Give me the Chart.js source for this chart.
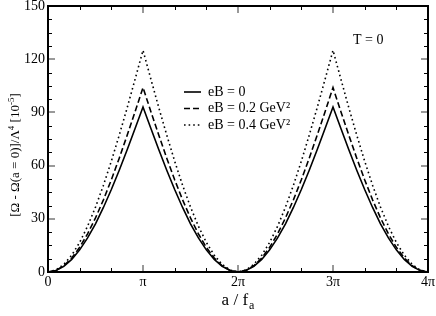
<!DOCTYPE html>
<html>
<head>
<meta charset="utf-8">
<script src="https://cdn.jsdelivr.net/npm/chart.js@4.4.0/dist/chart.umd.min.js"></script>
<style>
  html, body { margin: 0; padding: 0; background: #fff; }
  #wrap { width: 436px; height: 316px; }
</style>
</head>
<body>
<div id="wrap"><canvas id="potencial" width="436" height="316"></canvas></div>
<script>
// a / f_a em unidades de pi, passo pi/12
const aGrid = Array.from({ length: 49 }, (_, k) => k / 12);

// valores, [10^-5]
const eB0 = [0, 0.8, 3.2, 7.1, 12.5, 19.2, 27.2, 36.4, 46.5, 57.4, 68.9, 80.9, 93,
  80.9, 68.9, 57.4, 46.5, 36.4, 27.2, 19.2, 12.5, 7.1, 3.2, 0.8, 0,
  0.8, 3.2, 7.1, 12.5, 19.2, 27.2, 36.4, 46.5, 57.4, 68.9, 80.9, 93,
  80.9, 68.9, 57.4, 46.5, 36.4, 27.2, 19.2, 12.5, 7.1, 3.2, 0.8, 0];
const eB02 = [0, 0.9, 3.5, 7.9, 13.9, 21.5, 30.5, 40.7, 52, 64.2, 77.1, 90.4, 104,
  90.4, 77.1, 64.2, 52, 40.7, 30.5, 21.5, 13.9, 7.9, 3.5, 0.9, 0,
  0.9, 3.5, 7.9, 13.9, 21.5, 30.5, 40.7, 52, 64.2, 77.1, 90.4, 104,
  90.4, 77.1, 64.2, 52, 40.7, 30.5, 21.5, 13.9, 7.9, 3.5, 0.9, 0];
const eB04 = [0, 1.1, 4.3, 9.5, 16.7, 25.8, 36.6, 48.9, 62.5, 77.2, 92.6, 108.7, 125,
  108.7, 92.6, 77.2, 62.5, 48.9, 36.6, 25.8, 16.7, 9.5, 4.3, 1.1, 0,
  1.1, 4.3, 9.5, 16.7, 25.8, 36.6, 48.9, 62.5, 77.2, 92.6, 108.7, 125,
  108.7, 92.6, 77.2, 62.5, 48.9, 36.6, 25.8, 16.7, 9.5, 4.3, 1.1, 0];

const legendas = ['eB = 0', 'eB = 0.2 GeV\u00B2', 'eB = 0.4 GeV\u00B2'];
const tracos = [[], [6, 3], [1.6, 3]];

const xTicks = [0, 1, 2, 3, 4];
const xLabels = ['0', '\u03C0', '2\u03C0', '3\u03C0', '4\u03C0'];
const yTicks = [0, 30, 60, 90, 120, 150];

const serif = '"Liberation Serif", "DejaVu Serif", serif';

function serie(vals) {
  return aGrid.map((x, i) => ({ x: x, y: vals[i] }));
}

// eixos, marcas, textos e legenda desenhados por cima
const moldura = {
  id: 'moldura',
  afterDraw(chart) {
    const ctx = chart.ctx;
    const area = chart.chartArea;
    const xs = chart.scales.x;
    const ys = chart.scales.y;
    ctx.save();

    // marcas menores
    ctx.strokeStyle = '#000';
    ctx.lineWidth = 1;
    ctx.beginPath();
    for (let k = 1; k < 12; k++) {
      if (k % 3 === 0) continue;
      const px = Math.round(xs.getPixelForValue(k / 3)) + 0.5;
      ctx.moveTo(px, area.bottom); ctx.lineTo(px, area.bottom - 4);
      ctx.moveTo(px, area.top); ctx.lineTo(px, area.top + 4);
    }
    for (let v = 7.5; v < 150; v += 7.5) {
      if (v % 30 === 0) continue;
      const py = Math.round(ys.getPixelForValue(v)) + 0.5;
      ctx.moveTo(area.left, py); ctx.lineTo(area.left + 4, py);
      ctx.moveTo(area.right, py); ctx.lineTo(area.right - 4, py);
    }
    ctx.stroke();

    // marcas maiores
    ctx.strokeStyle = '#999';
    ctx.lineWidth = 2;
    ctx.beginPath();
    xTicks.slice(1, -1).forEach(t => {
      const px = Math.round(xs.getPixelForValue(t));
      ctx.moveTo(px, area.bottom); ctx.lineTo(px, area.bottom - 7);
      ctx.moveTo(px, area.top); ctx.lineTo(px, area.top + 7);
    });
    yTicks.slice(1, -1).forEach(t => {
      const py = Math.round(ys.getPixelForValue(t));
      ctx.moveTo(area.left, py); ctx.lineTo(area.left + 7, py);
      ctx.moveTo(area.right, py); ctx.lineTo(area.right - 7, py);
    });
    ctx.stroke();

    // moldura
    ctx.strokeStyle = '#000';
    ctx.lineWidth = 2;
    ctx.strokeRect(area.left, area.top, area.right - area.left, area.bottom - area.top);

    // rótulos
    ctx.fillStyle = '#000';
    ctx.font = '14px ' + serif;
    ctx.textAlign = 'center';
    ctx.textBaseline = 'top';
    xTicks.forEach((t, i) => {
      ctx.fillText(xLabels[i], xs.getPixelForValue(t), area.bottom + 3);
    });
    ctx.textAlign = 'right';
    ctx.textBaseline = 'middle';
    yTicks.forEach(t => {
      ctx.fillText(String(t), area.left - 3, ys.getPixelForValue(t));
    });

    // título do eixo x: a / f_a
    ctx.textAlign = 'left';
    ctx.textBaseline = 'alphabetic';
    ctx.font = '17px ' + serif;
    const w1 = ctx.measureText('a / f').width;
    ctx.font = '12px ' + serif;
    const w2 = ctx.measureText('a').width;
    const x0 = 238 - (w1 + w2 + 1) / 2;
    ctx.font = '17px ' + serif;
    ctx.fillText('a / f', x0, 305);
    ctx.font = '12px ' + serif;
    ctx.fillText('a', x0 + w1 + 1, 309);

    // título do eixo y
    const partes = [
      ['[\u03A9 - \u03A9(a = 0)]/\u039B', 13, 0],
      ['4', 9, -5],
      [' [10', 13, 0],
      ['-5', 9, -5],
      [']', 13, 0]
    ];
    let total = 0;
    partes.forEach(p => { ctx.font = p[1] + 'px ' + serif; total += ctx.measureText(p[0]).width; });
    ctx.translate(19, 155);
    ctx.rotate(-Math.PI / 2);
    let cx = -total / 2;
    partes.forEach(p => {
      ctx.font = p[1] + 'px ' + serif;
      ctx.fillText(p[0], cx, p[2]);
      cx += ctx.measureText(p[0]).width;
    });
    ctx.setTransform(1, 0, 0, 1, 0, 0);

    // T = 0
    ctx.font = '14px ' + serif;
    ctx.textBaseline = 'middle';
    ctx.fillText('T = 0', 353, 40);

    // legenda
    const linhas = [92, 108.5, 125];
    chart.data.datasets.forEach((ds, i) => {
      ctx.strokeStyle = '#000';
      ctx.lineWidth = 1.6;
      ctx.setLineDash(tracos[i]);
      ctx.beginPath();
      ctx.moveTo(184, linhas[i]);
      ctx.lineTo(201, linhas[i]);
      ctx.stroke();
      ctx.setLineDash([]);
      ctx.fillText(ds.label, 208, linhas[i]);
    });

    ctx.restore();
  }
};

const ctx = document.getElementById('potencial').getContext('2d');
const grafico = new Chart(ctx, {
  type: 'line',
  data: {
    datasets: [eB0, eB02, eB04].map((vals, i) => ({
      label: legendas[i],
      data: serie(vals),
      borderColor: '#000',
      borderWidth: 1.6,
      borderDash: tracos[i],
      pointRadius: 0,
      tension: 0,
      fill: false
    }))
  },
  options: {
    responsive: false,
    animation: false,
    devicePixelRatio: 1,
    layout: { padding: { left: 48, top: 6, right: 8, bottom: 44 } },
    plugins: { legend: { display: false }, tooltip: { enabled: false } },
    scales: {
      x: { type: 'linear', min: 0, max: 4, display: false },
      y: { min: 0, max: 150, display: false }
    }
  },
  plugins: [moldura]
});
</script>
</body>
</html>
